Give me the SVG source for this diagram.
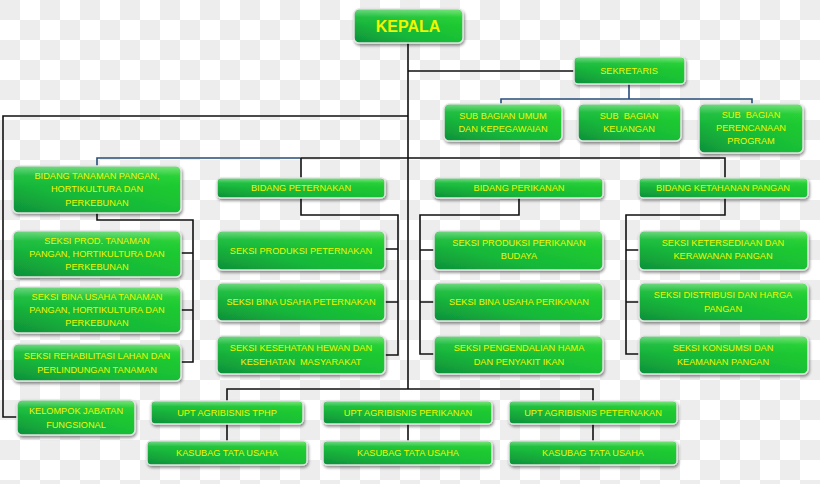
<svg xmlns="http://www.w3.org/2000/svg" width="820" height="484" viewBox="0 0 820 484">
<defs>
<pattern id="chk" width="40" height="40" patternUnits="userSpaceOnUse">
<rect width="40" height="40" fill="#ffffff"/>
<rect width="20" height="20" fill="#ededed"/>
<rect x="20" y="20" width="20" height="20" fill="#ededed"/>
</pattern>
<linearGradient id="g" x1="0" y1="1" x2="1" y2="0">
<stop offset="0" stop-color="#0f8f3a"/>
<stop offset="0.35" stop-color="#16b83a"/>
<stop offset="1" stop-color="#22d42a"/>
</linearGradient>
<linearGradient id="gl" x1="0" y1="0" x2="0" y2="1">
<stop offset="0" stop-color="#ffffff" stop-opacity="0.35"/>
<stop offset="0.45" stop-color="#ffffff" stop-opacity="0.05"/>
<stop offset="1" stop-color="#ffffff" stop-opacity="0"/>
</linearGradient>
<filter id="sh" x="-10%" y="-20%" width="120%" height="150%">
<feGaussianBlur in="SourceAlpha" stdDeviation="1.5"/>
<feOffset dx="1" dy="2" result="b"/>
<feComponentTransfer><feFuncA type="linear" slope="0.45"/></feComponentTransfer>
<feMerge><feMergeNode/><feMergeNode in="SourceGraphic"/></feMerge>
</filter>
</defs>
<style>
.b{fill:url(#g);stroke:#e4e4e4;stroke-width:1.5;filter:url(#sh)}
.gl{fill:url(#gl);stroke:none}
.t{font-family:"Liberation Sans",Arial,sans-serif;font-size:9.2px;fill:#f2f500;text-anchor:middle}
.k{font-family:"Liberation Sans",Arial,sans-serif;font-size:16px;font-weight:bold;fill:#f2f500;text-anchor:middle}
.c{fill:none;stroke:#111;stroke-width:1.6}
.cb{fill:none;stroke:#274e7a;stroke-width:1.6}
</style>
<rect width="820" height="484" fill="url(#chk)"/>

<g id="connectors">
<path class="c" d="M408,43 V389 M408,71 H574 M408,116 H3 V417 H17"/>
<path class="cb" d="M629,84 V99 M501,104 V99 H752 V104"/>
<path class="cb" d="M97,166 V158 H301"/>
<path class="c" d="M301,158 H725 V178 M301,158 V178"/>
<path class="c" d="M97,213 V220 H193 V362 H181 M181,253 H193 M181,310 H193"/>
<path class="c" d="M301,198 V215 H398 V355 H385 M385,249 H398 M385,302 H398"/>
<path class="c" d="M519,198 V215 H420 V354 H434 M420,250 H434 M420,302 H434"/>
<path class="c" d="M725,198 V215 H626 V354 H639 M626,250 H639 M626,302 H639"/>
<path class="c" d="M227,401 V389 H593 V401 M227,424 V441 M408,424 V441 M593,424 V441"/>
</g>

<g id="kepala"><rect class="b" x="354" y="9" width="109" height="34" rx="5"/><rect class="gl" x="355" y="10" width="107" height="16" rx="4"/><text class="k" x="408" y="32">KEPALA</text></g>
<g id="sekretaris"><rect class="b" x="574" y="57" width="111" height="27" rx="4"/><rect class="gl" x="575" y="58" width="109" height="12" rx="3"/><text class="t" x="629" y="74">SEKRETARIS</text></g>
<g id="sub-umum"><rect class="b" x="444" y="104" width="118" height="37" rx="5"/><rect class="gl" x="445" y="105" width="116" height="16" rx="4"/><text class="t" x="503" y="119">SUB BAGIAN UMUM</text><text class="t" x="503" y="132">DAN KEPEGAWAIAN</text></g>
<g id="sub-keuangan"><rect class="b" x="578" y="104" width="103" height="37" rx="5"/><rect class="gl" x="579" y="105" width="101" height="16" rx="4"/><text class="t" x="629" y="119" xml:space="preserve">SUB  BAGIAN</text><text class="t" x="629" y="132">KEUANGAN</text></g>
<g id="sub-perencanaan"><rect class="b" x="699" y="104" width="104" height="49" rx="5"/><rect class="gl" x="700" y="105" width="102" height="20" rx="4"/><text class="t" x="751" y="118" xml:space="preserve">SUB  BAGIAN</text><text class="t" x="751" y="131">PERENCANAAN</text><text class="t" x="751" y="144">PROGRAM</text></g>

<g id="bidang-tanaman"><rect class="b" x="13" y="166" width="168" height="47" rx="5"/><rect class="gl" x="14" y="167" width="166" height="20" rx="4"/><text class="t" x="97" y="179">BIDANG TANAMAN PANGAN,</text><text class="t" x="97" y="192">HORTIKULTURA DAN</text><text class="t" x="97" y="206">PERKEBUNAN</text></g>
<g id="bidang-peternakan"><rect class="b" x="217" y="178" width="168" height="20" rx="4"/><rect class="gl" x="218" y="179" width="166" height="9" rx="3"/><text class="t" x="301" y="191">BIDANG PETERNAKAN</text></g>
<g id="bidang-perikanan"><rect class="b" x="434" y="178" width="169" height="20" rx="4"/><rect class="gl" x="435" y="179" width="167" height="9" rx="3"/><text class="t" x="519" y="191">BIDANG PERIKANAN</text></g>
<g id="bidang-ketahanan"><rect class="b" x="639" y="178" width="169" height="20" rx="4"/><rect class="gl" x="640" y="179" width="167" height="9" rx="3"/><text class="t" x="723" y="191">BIDANG KETAHANAN PANGAN</text></g>

<g id="seksi-prod-tanaman"><rect class="b" x="13" y="231" width="168" height="46" rx="5"/><rect class="gl" x="14" y="232" width="166" height="20" rx="4"/><text class="t" x="97" y="244">SEKSI PROD. TANAMAN</text><text class="t" x="97" y="257">PANGAN, HORTIKULTURA DAN</text><text class="t" x="97" y="270">PERKEBUNAN</text></g>
<g id="seksi-bina-tanaman"><rect class="b" x="13" y="287" width="168" height="46" rx="5"/><rect class="gl" x="14" y="288" width="166" height="20" rx="4"/><text class="t" x="97" y="300">SEKSI BINA USAHA TANAMAN</text><text class="t" x="97" y="313">PANGAN, HORTIKULTURA DAN</text><text class="t" x="97" y="326">PERKEBUNAN</text></g>
<g id="seksi-rehabilitasi"><rect class="b" x="13" y="344" width="168" height="37" rx="5"/><rect class="gl" x="14" y="345" width="166" height="16" rx="4"/><text class="t" x="97" y="359">SEKSI REHABILITASI LAHAN DAN</text><text class="t" x="97" y="373">PERLINDUNGAN TANAMAN</text></g>

<g id="seksi-prod-peternakan"><rect class="b" x="217" y="231" width="168" height="39" rx="5"/><rect class="gl" x="218" y="232" width="166" height="17" rx="4"/><text class="t" x="301" y="254">SEKSI PRODUKSI PETERNAKAN</text></g>
<g id="seksi-bina-peternakan"><rect class="b" x="217" y="283" width="168" height="38" rx="5"/><rect class="gl" x="218" y="284" width="166" height="17" rx="4"/><text class="t" x="301" y="305">SEKSI BINA USAHA PETERNAKAN</text></g>
<g id="seksi-kesehatan"><rect class="b" x="217" y="336" width="168" height="38" rx="5"/><rect class="gl" x="218" y="337" width="166" height="17" rx="4"/><text class="t" x="301" y="351">SEKSI KESEHATAN HEWAN DAN</text><text class="t" x="301" y="365" xml:space="preserve">KESEHATAN  MASYARAKAT</text></g>

<g id="seksi-prod-perikanan"><rect class="b" x="434" y="231" width="169" height="39" rx="5"/><rect class="gl" x="435" y="232" width="167" height="17" rx="4"/><text class="t" x="519" y="246">SEKSI PRODUKSI PERIKANAN</text><text class="t" x="519" y="259">BUDAYA</text></g>
<g id="seksi-bina-perikanan"><rect class="b" x="434" y="283" width="169" height="38" rx="5"/><rect class="gl" x="435" y="284" width="167" height="17" rx="4"/><text class="t" x="519" y="305">SEKSI BINA USAHA PERIKANAN</text></g>
<g id="seksi-pengendalian"><rect class="b" x="434" y="336" width="169" height="38" rx="5"/><rect class="gl" x="435" y="337" width="167" height="17" rx="4"/><text class="t" x="519" y="351">SEKSI PENGENDALIAN HAMA</text><text class="t" x="519" y="365">DAN PENYAKIT IKAN</text></g>

<g id="seksi-ketersediaan"><rect class="b" x="639" y="231" width="169" height="39" rx="5"/><rect class="gl" x="640" y="232" width="167" height="17" rx="4"/><text class="t" x="723" y="246">SEKSI KETERSEDIAAN DAN</text><text class="t" x="723" y="259">KERAWANAN PANGAN</text></g>
<g id="seksi-distribusi"><rect class="b" x="639" y="283" width="169" height="38" rx="5"/><rect class="gl" x="640" y="284" width="167" height="17" rx="4"/><text class="t" x="723" y="298">SEKSI DISTRIBUSI DAN HARGA</text><text class="t" x="723" y="312">PANGAN</text></g>
<g id="seksi-konsumsi"><rect class="b" x="639" y="336" width="169" height="38" rx="5"/><rect class="gl" x="640" y="337" width="167" height="17" rx="4"/><text class="t" x="723" y="351">SEKSI KONSUMSI DAN</text><text class="t" x="723" y="365">KEAMANAN PANGAN</text></g>

<g id="kelompok-jabatan"><rect class="b" x="17" y="400" width="118" height="35" rx="5"/><rect class="gl" x="18" y="401" width="116" height="15" rx="4"/><text class="t" x="76" y="414">KELOMPOK JABATAN</text><text class="t" x="76" y="428">FUNGSIONAL</text></g>
<g id="upt-tphp"><rect class="b" x="151" y="401" width="152" height="23" rx="4"/><rect class="gl" x="152" y="402" width="150" height="10" rx="3"/><text class="t" x="227" y="416">UPT AGRIBISNIS TPHP</text></g>
<g id="upt-perikanan"><rect class="b" x="323" y="401" width="169" height="23" rx="4"/><rect class="gl" x="324" y="402" width="167" height="10" rx="3"/><text class="t" x="408" y="416">UPT AGRIBISNIS PERIKANAN</text></g>
<g id="upt-peternakan"><rect class="b" x="509" y="401" width="168" height="23" rx="4"/><rect class="gl" x="510" y="402" width="166" height="10" rx="3"/><text class="t" x="593" y="416">UPT AGRIBISNIS PETERNAKAN</text></g>
<g id="kasubag-tphp"><rect class="b" x="147" y="441" width="160" height="24" rx="4"/><rect class="gl" x="148" y="442" width="158" height="10" rx="3"/><text class="t" x="227" y="456">KASUBAG TATA USAHA</text></g>
<g id="kasubag-perikanan"><rect class="b" x="323" y="441" width="169" height="24" rx="4"/><rect class="gl" x="324" y="442" width="167" height="10" rx="3"/><text class="t" x="408" y="456">KASUBAG TATA USAHA</text></g>
<g id="kasubag-peternakan"><rect class="b" x="509" y="441" width="168" height="24" rx="4"/><rect class="gl" x="510" y="442" width="166" height="10" rx="3"/><text class="t" x="593" y="456">KASUBAG TATA USAHA</text></g>
</svg>
